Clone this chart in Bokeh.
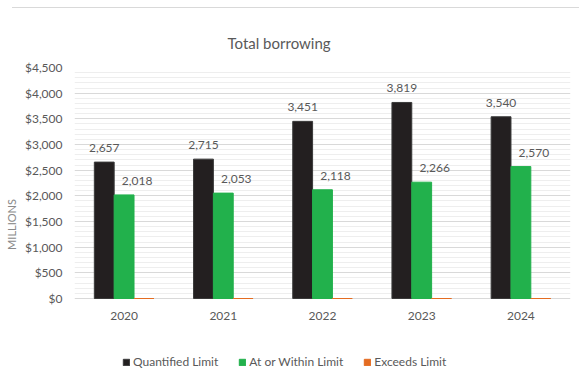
from bokeh.plotting import figure
from bokeh.models import (ColumnDataSource, FactorRange, Range1d, LabelSet, Legend, LegendItem,
                          NumeralTickFormatter, FixedTicker)
from bokeh.core.properties import value
from bokeh.transform import dodge
from bokeh.embed import file_html
from bokeh.resources import INLINE

years = ["2020", "2021", "2022", "2023", "2024"]
quantified = [2657, 2715, 3451, 3819, 3540]
within = [2018, 2053, 2118, 2266, 2570]
exceeds = [0, 0, 0, 0, 0]
series_names = ["Quantified Limit", "At or Within Limit", "Exceeds Limit"]
y_ticks = [0, 500, 1000, 1500, 2000, 2500, 3000, 3500, 4000, 4500]

FONT = "Lato"
GRAY = "#595959"

src = ColumnDataSource(dict(
    years=years, q=quantified, w=within, e=exceeds, zero=[0] * len(years),
    ql=[f"{v:,}" for v in quantified], wl=[f"{v:,}" for v in within],
))

# frame extends to the bottom of the page so the legend can sit inside it;
# the value axis is mapped so that $0 lies 83px above the bottom edge
px_per_unit = 231 / 4500
p = figure(frame_width=496, frame_height=314, x_range=FactorRange(*years, range_padding=0),
           y_range=Range1d(-83 / px_per_unit, 4500), output_backend="svg", toolbar_location=None,
           x_axis_location=None,
           min_border_left=74, min_border_right=9, min_border_top=67, min_border_bottom=0)
p.outline_line_color = None
p.background_fill_color = "white"
p.border_fill_alpha = 0
p.styles = {"background": "linear-gradient(#d9d9d9, #d9d9d9) 12px 7px / 567px 1px no-repeat, white"}

r1 = p.vbar(x=dodge("years", -0.2, range=p.x_range), top="q", width=0.2, source=src,
            fill_color="#231f20", line_color="#3a3a3a", line_width=1)
r2 = p.vbar(x=dodge("years", 0.0, range=p.x_range), top="w", width=0.2, source=src,
            fill_color="#22b14c", line_color="#22b14c")
r3 = p.vbar(x=dodge("years", 0.2, range=p.x_range), top="e", width=0.2, source=src,
            fill_color="#e46c21", line_color="#e46c21")

p.add_layout(LabelSet(x=dodge("years", -0.2, range=p.x_range), y="q", text="ql", source=src,
                      text_align="center", text_baseline="middle", y_offset=14,
                      text_font=value(FONT), text_font_size="12px", text_color=GRAY))
p.add_layout(LabelSet(x=dodge("years", 0.0, range=p.x_range), y="w", text="wl", source=src,
                      text_align="center", text_baseline="middle", y_offset=14, x_offset=13,
                      text_font=value(FONT), text_font_size="12px", text_color=GRAY))
# category labels under the baseline
p.add_layout(LabelSet(x="years", y="zero", text="years", source=src,
                      text_align="center", text_baseline="middle", y_offset=-17,
                      text_font=value(FONT), text_font_size="12px", text_color=GRAY))

# value axis
ticker = FixedTicker(ticks=y_ticks,
                     minor_ticks=[t + k * 100 for t in y_ticks[:-1] for k in range(1, 5)])
p.yaxis.ticker = ticker
p.ygrid.ticker = ticker
p.yaxis.formatter = NumeralTickFormatter(format="$0,0")
p.yaxis.axis_line_color = None
p.yaxis.major_tick_out = 0
p.yaxis.major_tick_in = 0
p.yaxis.minor_tick_out = 0
p.yaxis.minor_tick_in = 0
p.yaxis.major_tick_line_color = None
p.yaxis.minor_tick_line_color = None
p.yaxis.major_label_text_font = FONT
p.yaxis.major_label_text_font_size = "12px"
p.yaxis.major_label_text_color = GRAY
p.yaxis.major_label_standoff = 12
p.yaxis.axis_label = "MILLIONS"
p.yaxis.axis_label_text_font = FONT
p.yaxis.axis_label_text_font_size = "11px"
p.yaxis.axis_label_text_font_style = "normal"
p.yaxis.axis_label_text_color = "#8a8a8a"
p.yaxis.axis_label_standoff = 4

p.xgrid.grid_line_color = None
p.ygrid.grid_line_color = "#d9d9d9"
p.ygrid.minor_grid_line_color = "#eeeeee"

p.title.text = "Total borrowing"
p.title.align = "left"
p.title.text_font = FONT
p.title.text_font_size = "15px"
p.title.text_font_style = "normal"
p.title.text_color = GRAY
p.title.offset = 153
p.title.standoff = 31

legend = Legend(items=[LegendItem(label=series_names[0], renderers=[r1]),
                       LegendItem(label=series_names[1], renderers=[r2]),
                       LegendItem(label=series_names[2], renderers=[r3])],
                orientation="horizontal", location=(48, 12),
                label_text_font=FONT, label_text_font_size="12px", label_text_color=GRAY,
                glyph_width=8, glyph_height=8, spacing=20, label_standoff=3,
                border_line_color=None, background_fill_alpha=0, margin=0, padding=0)
p.add_layout(legend)

open("out.html", "w").write(file_html(p, INLINE))
